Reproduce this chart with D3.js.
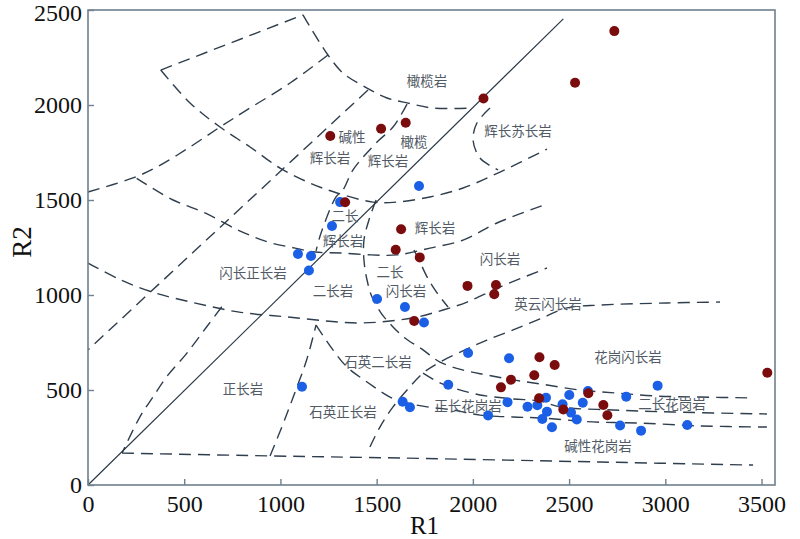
<!DOCTYPE html>
<html>
<head>
<meta charset="utf-8">
<script src="https://cdn.jsdelivr.net/npm/d3@7"></script>
<style>
  html, body { margin: 0; padding: 0; background: #ffffff; }
  svg { display: block; }
</style>
</head>
<body>
<svg id="chart" width="800" height="539"></svg>
<script>
// ---------- data ----------
const xTicks = [0, 500, 1000, 1500, 2000, 2500, 3000, 3500];
const yTicks = [0, 500, 1000, 1500, 2000, 2500];

const redR1 = [2735,2531,2055,1651,1523,1259,1336,1627,1599,1724,1972,2120,2111,1695,2346,2425,2319,2198,2146,2344,2470,2600,2678,2699,3530];
const redR2 = [2389,2117,2034,1907,1875,1837,1488,1346,1238,1198,1048,1053,1004,863,672,632,578,554,514,457,397,483,421,367,591];

const blueR1 = [1310,1720,1268,1091,1159,1148,1502,1647,1746,1112,1635,1673,1975,2188,1872,2079,2180,2284,2335,2380,2385,2361,2411,2501,2466,2510,2540,2571,2598,2765,2797,2874,2960,3114];
const blueR2 = [1489,1574,1363,1216,1205,1129,979,937,855,517,438,409,695,667,528,366,436,412,420,459,386,347,304,474,425,381,345,433,495,313,465,286,523,316];

// field boundaries, [R1, R2]
const solidLine = [[0,0],[2470,2453]];
const bTopQuad = [[378,2184],[1117,2474]];
const bOlivine = [[1117,2474],[1154,2411],[1206,2326],[1247,2263],[1325,2168],[1450,2089],[1554,2037],[1658,2011],[1793,1984],[1995,1984]];
const bGabbroTop = [[378,2184],[530,2011],[686,1884],[842,1779],[998,1668],[1154,1589],[1294,1537],[1481,1489],[1606,1489],[1777,1516],[1949,1563],[2141,1647],[2385,1768]];
const bUpperLeft = [[0,1542],[234,1616],[359,1674],[530,1779],[686,1884],[826,1974],[1050,2116],[1247,2263]];
const bMonzoGabbro = [[253,1614],[442,1500],[608,1432],[779,1342],[935,1279],[1076,1247],[1180,1226],[1315,1221],[1471,1211],[1606,1211],[1777,1247],[1949,1289],[2125,1379],[2385,1479]];
const bDiagLeft = [[1455,2079],[0,711]];
const bMonzonite = [[0,1168],[171,1079],[348,1011],[556,958],[779,911],[1039,884],[1299,858],[1429,853],[1569,863],[1710,884],[1845,921],[1970,963],[2141,1042],[2385,1142]];
const bAlkGabbro = [[1658,2005],[1585,1884],[1502,1805],[1377,1658],[1325,1553],[1289,1516],[1211,1326],[1185,1232]];
const bMiddle = [[1497,1500],[1460,1395],[1434,1289],[1434,1184],[1450,1079],[1476,989],[1523,905],[1585,832],[1647,774],[1741,711],[1829,647],[1949,605],[2073,579],[2209,553],[2349,532],[2557,500],[2749,484],[2957,468],[3180,463],[3456,458]];
const bDiorite = [[1694,1237],[1725,1174],[1762,1095],[1814,1011],[1871,937]];
const bNorite = [[2089,1984],[2021,1905],[2001,1816],[2037,1721],[2131,1658]];
const bSyenite = [[695,938],[617,833],[513,693],[409,570],[339,465],[270,359],[177,168]];
const bBase = [[177,168],[946,153],[1621,142],[2661,121],[3456,105]];
const bQSyenite = [[946,153],[1015,325],[1067,465],[1136,658],[1185,842]];
const bAlkGranite = [[1185,842],[1273,711],[1346,621],[1450,542],[1569,463],[1658,432],[1762,411],[1897,395],[2037,368],[2209,358],[2349,353],[2624,332],[2868,326],[3180,311],[3528,305]];
const bMonzoGranite = [[1741,589],[1829,537],[1897,511],[2037,474],[2209,453],[2349,442],[2453,411],[2728,395],[3040,384],[3528,374]];
const bTonalite = [[1465,200],[1517,305],[1585,411],[1658,500],[1741,589],[1829,647],[1970,716],[2073,763],[2209,816],[2349,874],[2489,932],[2661,947],[3009,958],[3284,963]];

const boundaries = [bTopQuad,bOlivine,bGabbroTop,bUpperLeft,bMonzoGabbro,bDiagLeft,bMonzonite,bAlkGabbro,bMiddle,bDiorite,bNorite,bSyenite,bBase,bQSyenite,bAlkGranite,bMonzoGranite,bTonalite];

const fieldNames = ["橄榄岩","碱性","辉长岩","辉长岩","橄榄","辉长苏长岩","二长","辉长岩","辉长岩","闪长正长岩","二长岩","二长","闪长岩","闪长岩","英云闪长岩","花岗闪长岩","石英二长岩","正长岩","石英正长岩","正长花岗岩","二长花岗岩","碱性花岗岩"];
const fieldR1 = [1762,1372,1258,1559,1694,2234,1336,1325,1803,857,1273,1569,1652,2141,2390,2806,1507,805,1325,1975,3035,2650];
const fieldR2 = [2132,1837,1726,1711,1811,1868,1421,1292,1358,1121,1026,1126,1026,1195,958,679,653,511,389,421,432,211];

// ---------- layout ----------
const margin = {left: 88, top: 10, right: 25, bottom: 54};
const W = 800, H = 539;
const iw = W - margin.left - margin.right;   // 687
const ih = H - margin.top - margin.bottom;   // 475
const SERIF = "'Liberation Serif', 'Times New Roman', Times, serif";

const svg = d3.select("#chart");
const g = svg.append("g").attr("transform", `translate(${margin.left},${margin.top})`);

const x = d3.scaleLinear().domain([0, 3570]).range([0, iw]);
const y = d3.scaleLinear().domain([0, 2500]).range([ih, 0]);

const line = d3.line().x(d => x(d[0])).y(d => y(d[1])).curve(d3.curveCatmullRom.alpha(0.5));

// dashed boundaries
g.append("g").selectAll("path").data(boundaries).join("path")
  .attr("d", line)
  .attr("fill", "none")
  .attr("stroke", "#2f3e4d")
  .attr("stroke-width", 1.4)
  .attr("stroke-dasharray", "12,7");

// solid line
g.append("path").datum(solidLine)
  .attr("d", d3.line().x(d => x(d[0])).y(d => y(d[1])))
  .attr("fill", "none")
  .attr("stroke", "#2a3846")
  .attr("stroke-width", 1.2);

// labels
g.append("g").selectAll("text").data(fieldNames).join("text")
  .attr("x", (d, i) => x(fieldR1[i]))
  .attr("y", (d, i) => y(fieldR2[i]))
  .attr("text-anchor", "middle")
  .attr("dominant-baseline", "central")
  .style("font-family", "'Noto Sans CJK SC', sans-serif")
  .style("font-size", "13.5px")
  .attr("fill", "#525b65")
  .text(d => d);

// points
g.append("g").selectAll("circle").data(blueR1).join("circle")
  .attr("cx", (d) => x(d))
  .attr("cy", (d, i) => y(blueR2[i]))
  .attr("r", 5)
  .attr("fill", "#1a5fe6");

g.append("g").selectAll("circle").data(redR1).join("circle")
  .attr("cx", (d) => x(d))
  .attr("cy", (d, i) => y(redR2[i]))
  .attr("r", 5)
  .attr("fill", "#7a0c0e");

// frame
g.append("rect").attr("x", 0).attr("y", 0).attr("width", iw).attr("height", ih)
  .attr("fill", "none").attr("stroke", "#6f808e").attr("stroke-width", 1.6);

// axes
const xAxis = g.append("g").attr("transform", `translate(0,${ih})`)
  .call(d3.axisBottom(x).tickValues(xTicks).tickFormat(d3.format("d")).tickSizeInner(-6).tickSizeOuter(0).tickPadding(10));
const yAxis = g.append("g")
  .call(d3.axisLeft(y).tickValues(yTicks).tickFormat(d3.format("d")).tickSizeInner(-6).tickSizeOuter(0).tickPadding(6));

[xAxis, yAxis].forEach(a => {
  a.attr("font-family", null).attr("font-size", null);
  a.select(".domain").remove();
  a.selectAll(".tick line").attr("stroke", "#6f808e").attr("stroke-width", 1.4);
  a.selectAll(".tick text").attr("fill", "#111")
    .style("font-family", SERIF).style("font-size", "24px");
});
// keep the top label inside the picture
yAxis.selectAll(".tick text").filter(d => d === 2500).attr("dy", "0.42em");

// axis titles
svg.append("text").attr("x", margin.left + iw / 2 - 7).attr("y", 534)
  .attr("text-anchor", "middle")
  .style("font-family", SERIF).style("font-size", "25px").attr("fill", "#111").text("R1");
svg.append("text").attr("transform", `translate(31,242) rotate(-90)`)
  .attr("text-anchor", "middle")
  .style("font-family", SERIF).style("font-size", "27px").attr("fill", "#111").text("R2");
</script>
</body>
</html>
